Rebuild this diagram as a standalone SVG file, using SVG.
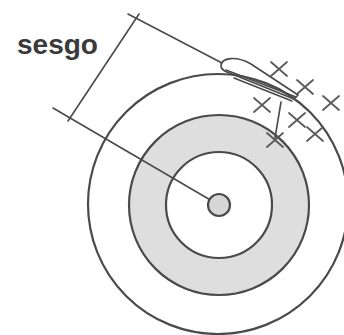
<svg xmlns="http://www.w3.org/2000/svg" width="344" height="335" viewBox="0 0 344 335">
<style>
.ln{fill:none;stroke:#4a4a4a;stroke-width:1.6;stroke-linecap:round}
.c{stroke:#4a4a4a;stroke-width:2.2}
.x{fill:none;stroke:#5a5a5a;stroke-width:1.8;stroke-linecap:round}
.t{font-family:"Liberation Sans",Arial,sans-serif;font-weight:bold;font-size:28px;fill:#3a3a3a}
</style>
<defs>
<path id="cross" d="M-8,-7 L8,7 M8,-7 L-8,7"/>
</defs>
<rect width="344" height="335" fill="#fff"/>
<g id="target">
<circle class="c" cx="218" cy="204" r="130" fill="none"/>
<circle class="c" cx="219" cy="205" r="90" fill="#dedede"/>
<circle class="c" cx="219" cy="205" r="53" fill="#fff"/>
<circle class="c" cx="219" cy="205" r="11" fill="#d6d6d6"/>
</g>
<g id="label">
<text class="t" x="17" y="54">sesgo</text>
</g>
<g id="connectors">
<path class="ln" d="M53,108 L209.5,199.5"/>
<path class="ln" d="M128,14 L222,63"/>
<path class="ln" d="M139,14 L68,121"/>
<path class="ln" d="M221,66 C221,57 237,56 251,64 L298,95 L294,99 L232,74 C226,72 221,70 221,66 Z"/>
<path class="ln" d="M226,70 L296,97"/>
<path class="ln" d="M234,78 L292,101"/>
<path class="ln" d="M281,102 L275,138"/>
</g>
<g id="shots">
<use class="x" href="#cross" x="279" y="69"/>
<use class="x" href="#cross" x="305" y="87"/>
<use class="x" href="#cross" x="331" y="103"/>
<use class="x" href="#cross" x="262" y="105"/>
<use class="x" href="#cross" x="297" y="120"/>
<use class="x" href="#cross" x="315" y="134"/>
<use class="x" href="#cross" x="275" y="140"/>
</g>
</svg>
